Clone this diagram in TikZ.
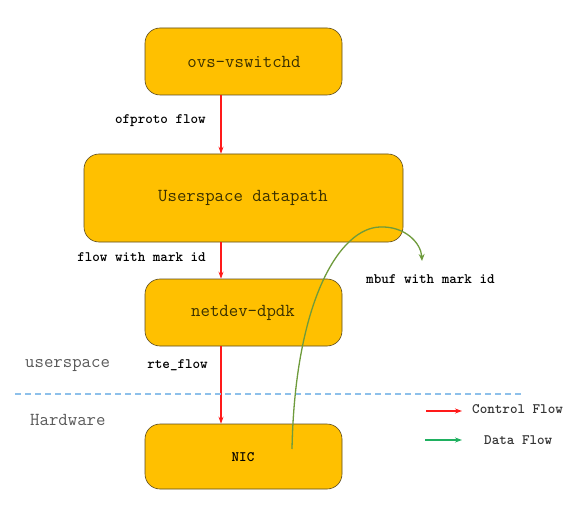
\documentclass[tikz,border=0pt]{standalone}
\usepackage{fontspec}
\usetikzlibrary{arrows.meta}
\definecolor{boxfill}{HTML}{FFC000}
\definecolor{boxline}{HTML}{5A4A20}
\definecolor{boxtext}{HTML}{3A3000}
\definecolor{ctrlred}{HTML}{FF1A1A}
\definecolor{datagreen}{HTML}{6E9B3C}
\definecolor{leggreen}{HTML}{1FB060}
\definecolor{dashblue}{HTML}{8DC0EA}
\definecolor{graytext}{HTML}{595959}
\tikzset{
  blockbox/.style={draw=boxline, line width=0.6pt, fill=boxfill, rounded corners=15pt, inner sep=0pt},
  boxlabel/.style={font=\ttfamily\fontsize{18.3}{20}\selectfont, text=boxtext, inner sep=0pt},
  ctrl/.style={draw=ctrlred, line width=1.1pt, -{Stealth[length=7pt,width=5pt]}},
  datafl/.style={draw=datagreen, line width=1.3pt, -{Stealth[length=7pt,width=6pt]}},
  lbl/.style={font=\ttfamily\bfseries\fontsize{14.4}{16}\selectfont, inner sep=0pt},
  legtext/.style={font=\ttfamily\bfseries\fontsize{14.4}{16}\selectfont, inner sep=0pt, text=black!80},
  layer/.style={font=\ttfamily\fontsize{18.3}{20}\selectfont, text=graytext, inner sep=0pt},
}
\begin{document}
\begin{tikzpicture}[x=1pt,y=-1pt]
\useasboundingbox (0,0) rectangle (578,513);
% boxes
\node[blockbox, minimum width=197pt, minimum height=67pt] (ovs) at (243.5,61.5) {};
\node[boxlabel] (ovst) at (244,62) {ovs-vswitchd};
\node[blockbox, minimum width=319pt, minimum height=88pt] (udp) at (243.5,198) {};
\node[boxlabel] (udpt) at (243,198) {Userspace datapath};
\node[blockbox, minimum width=197pt, minimum height=67pt] (dpdk) at (243.5,312.5) {};
\node[boxlabel] (dpdkt) at (243,313) {netdev-dpdk};
\node[blockbox, minimum width=197pt, minimum height=65pt] (nic) at (243.5,456.5) {};
\node[lbl] (nict) at (243,457) {NIC};
% control arrows
\draw[ctrl] ([xshift=-22.5pt]ovs.south) -- ([xshift=-22.5pt]udp.north);
\draw[ctrl] ([xshift=-22.5pt]udp.south) -- ([xshift=-22.5pt]dpdk.north);
\draw[ctrl] ([xshift=-22.5pt]dpdk.south) -- ([xshift=-22.5pt]nic.north);
% labels
\node[lbl, anchor=east] (l1) at (206,121) {ofproto flow};
\node[lbl, anchor=east] (l2) at (206,257) {flow with mark id};
\node[lbl, anchor=east] (l3) at (208,365) {rte\_flow};
\node[lbl, anchor=west] (l4) at (366,279) {mbuf with mark id};
% layer labels
\node[layer, anchor=west] (us) at (25,366) {userspace};
\node[layer, anchor=west] (hw) at (30,420) {Hardware};
\coordinate (dl) at (15,394);
\coordinate (dr) at (524,394);
\draw[dashblue, line width=1.1pt, dash pattern=on 6pt off 4pt] (dl) -- (dr);
% data flow
\coordinate (ds) at (292,449);
\coordinate (dtop) at (380,227);
\coordinate (de) at (422,261);
\draw[datafl] (ds) .. controls (295,300) and (340,228) .. (dtop) .. controls (405,226) and (421,243) .. (de);
% legend
\coordinate (la1) at (426,411);
\coordinate (la2) at (462,411);
\coordinate (lb1) at (425,440);
\coordinate (lb2) at (462,440);
\draw[ctrl] (la1) -- (la2);
\draw[draw=leggreen, line width=1.3pt, -{Stealth[length=7pt,width=5pt]}] (lb1) -- (lb2);
\node[legtext, anchor=west] (lc) at (472,409) {Control Flow};
\node[legtext, anchor=west] (ld) at (484,440) {Data Flow};
\end{tikzpicture}
\end{document}
